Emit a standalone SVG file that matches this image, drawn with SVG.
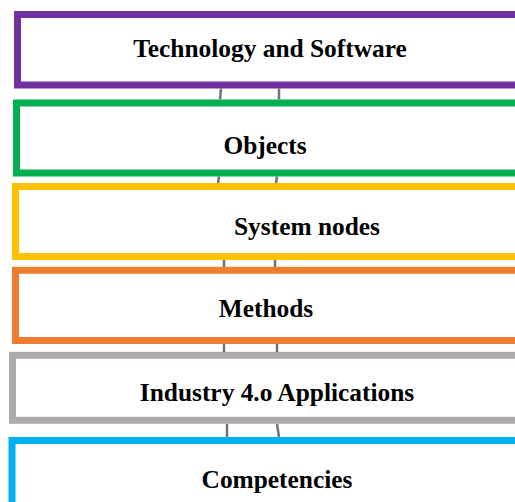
<svg xmlns="http://www.w3.org/2000/svg" width="515" height="502" viewBox="0 0 515 502">
<style>
.box{fill:#fff;stroke-width:7}
.lbl{font-family:"Liberation Serif","Times New Roman",serif;font-weight:bold;font-size:25.4px;fill:#000;text-anchor:middle}
.conn line{stroke:#767171;stroke-width:2.5}
</style>
<rect width="515" height="502" fill="#fff"/>
<g id="node-technology">
<rect class="box" x="17.5" y="14.5" width="520" height="70.5" stroke="#7030A0"/>
<text class="lbl" x="270" y="56.5">Technology and Software</text>
</g>
<g id="node-objects">
<rect class="box" x="16.5" y="103" width="520" height="70" stroke="#00B050"/>
<text class="lbl" x="265" y="154">Objects</text>
</g>
<g id="node-system">
<rect class="box" x="15.5" y="186.5" width="520" height="70" stroke="#FFC000"/>
<text class="lbl" x="307" y="235">System nodes</text>
</g>
<g id="node-methods">
<rect class="box" x="15.5" y="270.3" width="520" height="70.2" stroke="#ED7D31"/>
<text class="lbl" x="266" y="317">Methods</text>
</g>
<g id="node-industry">
<rect class="box" x="12.5" y="355.3" width="520" height="65" stroke="#AEAAAA"/>
<text class="lbl" x="277" y="401">Industry 4.o Applications</text>
</g>
<g id="node-competencies">
<rect class="box" x="12" y="440.5" width="520" height="80" stroke="#00B0F0"/>
<text class="lbl" x="277" y="487.5">Competencies</text>
</g>
<g id="connectors" class="conn">
<line x1="221" y1="88.5" x2="220" y2="99.5"/>
<line x1="279" y1="88.5" x2="279" y2="99.5"/>
<line x1="219" y1="176.5" x2="218" y2="183"/>
<line x1="277" y1="176.5" x2="276" y2="183"/>
<line x1="224" y1="260" x2="224" y2="267"/>
<line x1="275" y1="260" x2="275" y2="267"/>
<line x1="224" y1="344" x2="224" y2="352"/>
<line x1="277" y1="344" x2="277" y2="352"/>
<line x1="227" y1="424" x2="227" y2="437"/>
<line x1="277" y1="424" x2="279" y2="437"/>
</g>
</svg>
